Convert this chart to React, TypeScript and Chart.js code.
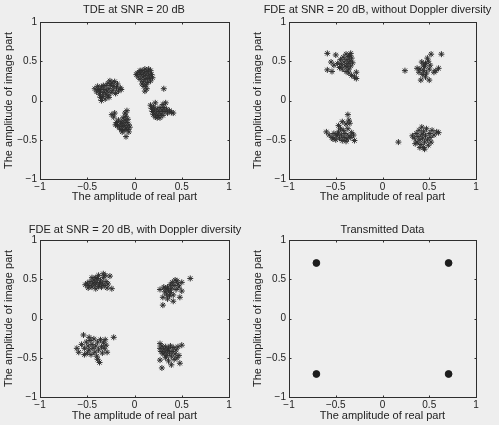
import React, { useEffect, useRef } from 'react';
import { Chart, registerables } from 'chart.js';

Chart.register(...registerables);

const TICK_VALUES = [-1, -0.5, 0, 0.5, 1];
const TICK_LABELS = ['−1', '−0.5', '0', '0.5', '1'];
const X_LABEL = 'The amplitude of real part';
const Y_LABEL = 'The amplitude of image part';
const TITLE_TDE = 'TDE at SNR = 20 dB';
const TITLE_FDE_NO = 'FDE at SNR = 20 dB, without Doppler diversity';
const TITLE_FDE_DOP = 'FDE at SNR = 20 dB, with Doppler diversity';
const TITLE_TX = 'Transmitted Data';

// [real, imag] pairs
const TDE_POINTS: number[][] = [
  [-0.42, 0.15], [-0.40, 0.11], [-0.38, 0.14], [-0.37, 0.08], [-0.36, 0.12], [-0.35, 0.17], [-0.34, 0.05],
  [-0.33, 0.10], [-0.32, 0.14], [-0.31, 0.02], [-0.30, 0.08], [-0.30, 0.19], [-0.29, 0.12], [-0.28, 0.22],
  [-0.28, 0.06], [-0.27, 0.15], [-0.26, 0.25], [-0.25, 0.10], [-0.25, 0.19], [-0.24, 0.22], [-0.23, 0.13],
  [-0.22, 0.18], [-0.21, 0.24], [-0.20, 0.09], [-0.19, 0.16], [-0.18, 0.21], [-0.17, 0.12], [-0.15, 0.16],
  [-0.14, 0.14], [-0.33, 0.19], [-0.36, 0.04], [-0.39, 0.18], [-0.27, 0.04], [-0.35, 0.00],
  [0.02, 0.33], [0.04, 0.30], [0.05, 0.36], [0.06, 0.27], [0.07, 0.33], [0.08, 0.38], [0.09, 0.24],
  [0.09, 0.30], [0.10, 0.35], [0.11, 0.40], [0.11, 0.27], [0.12, 0.20], [0.12, 0.32], [0.13, 0.37],
  [0.13, 0.15], [0.14, 0.28], [0.14, 0.23], [0.15, 0.34], [0.16, 0.30], [0.17, 0.38], [0.17, 0.25],
  [0.18, 0.33], [0.19, 0.29], [0.10, 0.18], [0.11, 0.12], [0.08, 0.21], [0.06, 0.38], [0.15, 0.40],
  [0.03, 0.35], [0.31, 0.15],
  [-0.24, -0.18], [-0.22, -0.21], [-0.21, -0.16], [-0.19, -0.28], [-0.18, -0.32], [-0.17, -0.25],
  [-0.16, -0.35], [-0.15, -0.30], [-0.14, -0.27], [-0.14, -0.37], [-0.13, -0.33], [-0.12, -0.22],
  [-0.12, -0.29], [-0.11, -0.38], [-0.10, -0.16], [-0.10, -0.25], [-0.10, -0.32], [-0.09, -0.20],
  [-0.09, -0.35], [-0.08, -0.28], [-0.08, -0.13], [-0.07, -0.37], [-0.07, -0.24], [-0.06, -0.31],
  [-0.05, -0.34], [-0.06, -0.40], [-0.20, -0.31], [-0.13, -0.40], [-0.09, -0.46],
  [0.17, -0.06], [0.18, -0.10], [0.19, -0.14], [0.20, -0.08], [0.20, -0.18], [0.21, -0.12], [0.22, -0.21],
  [0.23, -0.16], [0.24, -0.11], [0.25, -0.19], [0.26, -0.14], [0.27, -0.22], [0.27, -0.09], [0.28, -0.17],
  [0.29, -0.12], [0.30, -0.05], [0.30, -0.19], [0.31, -0.09], [0.32, -0.14], [0.33, -0.03], [0.34, -0.11],
  [0.35, -0.16], [0.37, -0.13], [0.39, -0.15], [0.41, -0.16], [0.24, -0.22], [0.22, -0.03],
];

const FDE_NO_POINTS: number[][] = [
  [-0.59, 0.60], [-0.50, 0.58], [-0.59, 0.39], [-0.54, 0.37], [-0.55, 0.49], [-0.52, 0.45], [-0.48, 0.47],
  [-0.46, 0.42], [-0.45, 0.52], [-0.44, 0.46], [-0.43, 0.40], [-0.42, 0.55], [-0.41, 0.49], [-0.40, 0.44],
  [-0.39, 0.59], [-0.38, 0.52], [-0.37, 0.47], [-0.36, 0.56], [-0.36, 0.40], [-0.35, 0.50], [-0.34, 0.60],
  [-0.34, 0.44], [-0.33, 0.54], [-0.32, 0.48], [-0.36, 0.35], [-0.33, 0.32], [-0.28, 0.28], [-0.28, 0.36],
  [-0.30, 0.30], [-0.39, 0.37], [-0.35, 0.57], [-0.38, 0.43],
  [0.24, 0.38], [0.52, 0.59], [0.63, 0.59], [0.42, 0.49], [0.37, 0.41], [0.41, 0.26], [0.50, 0.26],
  [0.60, 0.41], [0.55, 0.36], [0.46, 0.47], [0.48, 0.54], [0.44, 0.38], [0.40, 0.40], [0.45, 0.43],
  [0.47, 0.35], [0.43, 0.33], [0.49, 0.50], [0.51, 0.45], [0.46, 0.30], [0.39, 0.36], [0.50, 0.40],
  [0.57, 0.38], [0.44, 0.45],
  [-0.37, -0.18], [-0.43, -0.27], [-0.47, -0.32], [-0.39, -0.30], [-0.30, -0.51], [-0.33, -0.41],
  [-0.60, -0.40], [-0.57, -0.44], [-0.54, -0.47], [-0.52, -0.42], [-0.50, -0.50], [-0.49, -0.45],
  [-0.47, -0.40], [-0.46, -0.48], [-0.44, -0.44], [-0.43, -0.51], [-0.42, -0.38], [-0.41, -0.47],
  [-0.40, -0.42], [-0.38, -0.49], [-0.37, -0.36], [-0.36, -0.45], [-0.35, -0.29], [-0.34, -0.47],
  [-0.45, -0.36], [-0.48, -0.43], [-0.53, -0.49], [-0.39, -0.52], [-0.36, -0.25], [-0.31, -0.44],
  [0.17, -0.53], [0.60, -0.41], [0.42, -0.34], [0.32, -0.45], [0.44, -0.60], [0.34, -0.48], [0.36, -0.42],
  [0.37, -0.53], [0.38, -0.46], [0.39, -0.38], [0.40, -0.50], [0.41, -0.56], [0.42, -0.43], [0.43, -0.48],
  [0.44, -0.40], [0.45, -0.53], [0.46, -0.45], [0.47, -0.36], [0.48, -0.50], [0.49, -0.57], [0.50, -0.42],
  [0.51, -0.47], [0.52, -0.53], [0.53, -0.38], [0.55, -0.44], [0.58, -0.40], [0.45, -0.62], [0.40, -0.60],
  [0.35, -0.55],
];

const FDE_DOP_POINTS: number[][] = [
  [-0.26, 0.54], [-0.33, 0.57], [-0.45, 0.52], [-0.52, 0.43], [-0.49, 0.39], [-0.24, 0.38],
  [-0.50, 0.45], [-0.48, 0.42], [-0.47, 0.47], [-0.45, 0.40], [-0.44, 0.45], [-0.43, 0.49], [-0.42, 0.43],
  [-0.41, 0.38], [-0.40, 0.46], [-0.39, 0.51], [-0.38, 0.41], [-0.37, 0.44], [-0.36, 0.48], [-0.35, 0.40],
  [-0.34, 0.45], [-0.33, 0.52], [-0.32, 0.42], [-0.30, 0.47], [-0.29, 0.39], [-0.28, 0.44], [-0.31, 0.55],
  [-0.38, 0.55], [-0.41, 0.52],
  [0.30, 0.17], [0.59, 0.51], [0.43, 0.49], [0.50, 0.46], [0.27, 0.37], [0.30, 0.27], [0.50, 0.35],
  [0.48, 0.27], [0.41, 0.22], [0.32, 0.34], [0.33, 0.38], [0.34, 0.31], [0.35, 0.40], [0.36, 0.36],
  [0.37, 0.29], [0.38, 0.43], [0.38, 0.33], [0.39, 0.38], [0.40, 0.46], [0.41, 0.30], [0.42, 0.42],
  [0.44, 0.37], [0.46, 0.44], [0.47, 0.40], [0.35, 0.25], [0.31, 0.40], [0.45, 0.48],
  [-0.54, -0.21], [-0.22, -0.24], [-0.61, -0.38], [-0.59, -0.43], [-0.37, -0.56], [-0.29, -0.43],
  [-0.56, -0.33], [-0.53, -0.38], [-0.51, -0.30], [-0.50, -0.44], [-0.49, -0.35], [-0.48, -0.40],
  [-0.47, -0.28], [-0.46, -0.46], [-0.45, -0.33], [-0.44, -0.38], [-0.43, -0.26], [-0.42, -0.43],
  [-0.41, -0.35], [-0.40, -0.48], [-0.39, -0.30], [-0.38, -0.40], [-0.36, -0.27], [-0.35, -0.36],
  [-0.34, -0.44], [-0.33, -0.31], [-0.32, -0.38], [-0.31, -0.27], [-0.30, -0.34], [-0.48, -0.24],
  [-0.53, -0.46], [-0.39, -0.52],
  [0.29, -0.63], [0.27, -0.53], [0.50, -0.34], [0.27, -0.32], [0.39, -0.59], [0.48, -0.57],
  [0.27, -0.38], [0.28, -0.42], [0.29, -0.35], [0.30, -0.45], [0.31, -0.39], [0.32, -0.43], [0.33, -0.36],
  [0.34, -0.47], [0.35, -0.41], [0.36, -0.38], [0.37, -0.44], [0.38, -0.35], [0.39, -0.48], [0.40, -0.42],
  [0.41, -0.37], [0.42, -0.52], [0.43, -0.45], [0.44, -0.40], [0.45, -0.50], [0.46, -0.36], [0.47, -0.47],
  [0.36, -0.54], [0.33, -0.50],
];

const TX_POINTS: number[][] = [
  [-0.707, 0.707], [0.707, 0.707], [-0.707, -0.707], [0.707, -0.707],
];

const FONT = '"Liberation Sans", Arial, Helvetica, sans-serif';
const TEXT = '#222222';
const INK = '#2e2e2e';

const boxPlugin = {
  id: 'matlabBox',
  beforeDatasetsDraw(chart: any) {
    const { ctx, chartArea, scales } = chart;
    const { left, right, top, bottom } = chartArea;
    const L = Math.round(left) + 0.5;
    const R = Math.round(right) + 0.5;
    const T = Math.round(top) + 0.5;
    const B = Math.round(bottom) + 0.5;
    ctx.save();
    ctx.strokeStyle = INK;
    ctx.lineWidth = 1;
    ctx.strokeRect(L, T, R - L, B - T);
    const tl = 2;
    ctx.beginPath();
    for (const v of TICK_VALUES) {
      const px = Math.round(scales.x.getPixelForValue(v)) + 0.5;
      ctx.moveTo(px, B); ctx.lineTo(px, B - tl);
      ctx.moveTo(px, T); ctx.lineTo(px, T + tl);
      const py = Math.round(scales.y.getPixelForValue(v)) + 0.5;
      ctx.moveTo(L, py); ctx.lineTo(L + tl, py);
      ctx.moveTo(R, py); ctx.lineTo(R - tl, py);
    }
    ctx.stroke();
    ctx.restore();
  },
};

type PanelProps = {
  title: string;
  points: number[][];
  marker: 'star' | 'circle';
  left: number;
  top: number;
  width: number;
  height: number;
  yAxisW: number;
  rightW: number;
  xAxisH: number;
  titlePad: [number, number];
  yTitlePad: number;
  xTitlePad: number;
};

function Panel(p: PanelProps) {
  const ref = useRef<HTMLCanvasElement | null>(null);
  useEffect(() => {
    if (!ref.current) return;
    const tickCb = (v: any) => {
      const i = TICK_VALUES.indexOf(Number(v));
      return i >= 0 ? TICK_LABELS[i] : '';
    };
    const isStar = p.marker === 'star';
    const col = isStar ? INK : '#1c1c1c';
    const chart = new Chart(ref.current, {
      type: 'scatter',
      data: {
        datasets: [
          {
            data: p.points.map(([x, y]) => ({ x, y })),
            pointStyle: p.marker,
            pointRadius: isStar ? 3 : 3.4,
            pointBorderWidth: 1,
            borderColor: col,
            backgroundColor: col,
            pointBorderColor: col,
            pointBackgroundColor: col,
            showLine: false,
          } as any,
        ],
      },
      options: {
        animation: false,
        responsive: false,
        events: [],
        layout: { padding: 0 },
        plugins: {
          legend: { display: false },
          tooltip: { enabled: false },
          title: {
            display: true,
            text: p.title,
            color: TEXT,
            font: { family: FONT, size: 11, weight: 'normal' as any, lineHeight: 1.2 },
            padding: { top: p.titlePad[0], bottom: p.titlePad[1] },
          },
        },
        scales: {
          x: {
            type: 'linear',
            min: -1,
            max: 1,
            afterBuildTicks: (s: any) => { s.ticks = TICK_VALUES.map((v) => ({ value: v })); },
            afterFit: (s: any) => { s.height = p.xAxisH; s.paddingLeft = 0; s.paddingRight = 0; },
            ticks: { callback: tickCb, padding: 2, color: TEXT, font: { family: FONT, size: 10 }, maxRotation: 0, autoSkip: false },
            grid: { display: false, drawTicks: false, tickLength: 0 },
            border: { display: false },
            title: {
              display: true, text: X_LABEL, color: TEXT,
              font: { family: FONT, size: 11, lineHeight: 1.2 },
              padding: { top: 0, bottom: p.xTitlePad },
            },
          },
          y: {
            type: 'linear',
            min: -1,
            max: 1,
            afterBuildTicks: (s: any) => { s.ticks = TICK_VALUES.map((v) => ({ value: v })); },
            afterFit: (s: any) => { s.width = p.yAxisW; s.paddingTop = 0; s.paddingBottom = 0; },
            ticks: { callback: tickCb, padding: 3, color: TEXT, font: { family: FONT, size: 10 }, autoSkip: false },
            grid: { display: false, drawTicks: false, tickLength: 0 },
            border: { display: false },
            title: {
              display: true, text: Y_LABEL, color: TEXT,
              font: { family: FONT, size: 11, lineHeight: 1.2 },
              padding: { top: p.yTitlePad, bottom: 0 },
            },
          },
          yRight: {
            type: 'linear',
            position: 'right',
            min: -1,
            max: 1,
            display: true,
            afterFit: (s: any) => { s.width = p.rightW; s.paddingTop = 0; s.paddingBottom = 0; },
            ticks: { display: false },
            grid: { display: false, drawTicks: false, tickLength: 0 },
            border: { display: false },
          },
        },
      },
      plugins: [boxPlugin],
    });
    return () => chart.destroy();
  }, []);
  return (
    <canvas
      ref={ref}
      width={p.width}
      height={p.height}
      style={{ position: 'absolute', left: p.left, top: p.top, width: p.width, height: p.height }}
    />
  );
}

export default function App() {
  return (
    <div
      style={{
        position: 'fixed', left: 0, top: 0, width: 499, height: 425,
        overflow: 'hidden', background: '#eeeeee',
      }}
    >
      <Panel title={TITLE_TDE} points={TDE_POINTS} marker="star"
        left={0} top={0} width={268} height={206} yAxisW={40} rightW={39} xAxisH={27}
        titlePad={[3.6, 5.2]} yTitlePad={2.6} xTitlePad={2} />
      <Panel title={TITLE_FDE_NO} points={FDE_NO_POINTS} marker="star"
        left={250} top={0} width={255} height={206} yAxisW={39} rightW={29} xAxisH={27}
        titlePad={[3.6, 5.2]} yTitlePad={1.8} xTitlePad={2} />
      <Panel title={TITLE_FDE_DOP} points={FDE_DOP_POINTS} marker="star"
        left={0} top={218} width={270} height={206} yAxisW={40} rightW={41} xAxisH={27}
        titlePad={[5.1, 3.7]} yTitlePad={2.6} xTitlePad={1} />
      <Panel title={TITLE_TX} points={TX_POINTS} marker="circle"
        left={250} top={218} width={265} height={206} yAxisW={39} rightW={39} xAxisH={27}
        titlePad={[5.1, 3.7]} yTitlePad={1.6} xTitlePad={1} />
    </div>
  );
}
